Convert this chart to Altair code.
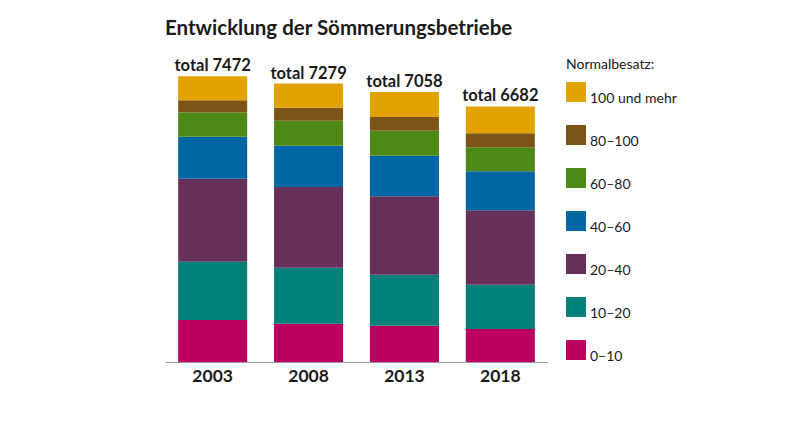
import altair as alt
import pandas as pd

years = ["2003", "2008", "2013", "2018"]
categories = ["0–10", "10–20", "20–40", "40–60", "60–80", "80–100", "100 und mehr"]
colors = ["#BB005E", "#008078", "#66305A", "#0066A4", "#4D8A15", "#7D5418", "#E2A200"]

v_0_10 = [1096, 1000, 948, 865]
v_10_20 = [1522, 1462, 1331, 1155]
v_20_40 = [2174, 2115, 2056, 1945]
v_40_60 = [1096, 1078, 1060, 1022]
v_60_80 = [637, 653, 653, 628]
v_80_100 = [321, 339, 357, 365]
v_100_plus = [626, 632, 653, 702]
totals = [7472, 7279, 7058, 6682]

series = [v_0_10, v_10_20, v_20_40, v_40_60, v_60_80, v_80_100, v_100_plus]
rows = []
for ci, (cat, vals) in enumerate(zip(categories, series)):
    for y, v in zip(years, vals):
        rows.append({"Jahr": y, "Normalbesatz": cat, "Anzahl": v, "rank": ci})
df = pd.DataFrame(rows)
tot = pd.DataFrame({"Jahr": years, "total": totals})

FONT = "Lato"

x_enc = alt.X(
    "Jahr:N",
    sort=years,
    scale=alt.Scale(paddingInner=0.28, paddingOuter=0.137),
    axis=alt.Axis(
        title=None, ticks=False, labelAngle=0, labelFont=FONT, labelFontSize=17.5,
        labelFontWeight="bold", labelColor="#1a1a1a", labelPadding=5,
        domainColor="#999999", domainWidth=1, grid=False,
    ),
)
y_scale = alt.Scale(domain=[0, 8000])

bars = alt.Chart(df).mark_bar(stroke=None).encode(
    x=x_enc,
    y=alt.Y("Anzahl:Q", stack="zero", scale=y_scale, axis=None),
    color=alt.Color(
        "Normalbesatz:N",
        scale=alt.Scale(domain=categories[::-1], range=colors[::-1]),
        legend=alt.Legend(
            title="Normalbesatz:", orient="none", legendX=401, legendY=2,
            symbolType="square", symbolSize=400, symbolStrokeWidth=0, symbolOpacity=1,
            rowPadding=19, titlePadding=10, titleFont=FONT, titleFontSize=14,
            titleFontWeight="normal", titleColor="#1a1a1a", labelFont=FONT,
            labelFontSize=14, labelColor="#1a1a1a", labelBaseline="top", labelOffset=4,
        ),
    ),
    order=alt.Order("rank:Q", sort="ascending"),
)

labels = alt.Chart(tot).transform_calculate(
    label="'total ' + datum.total"
).mark_text(
    font=FONT, fontSize=16.5, fontWeight="bold", baseline="alphabetic", dy=-5, color="#1a1a1a"
).encode(
    x=alt.X("Jahr:N", sort=years),
    y=alt.Y("total:Q", scale=y_scale),
    text="label:N",
)

chart = alt.layer(bars, labels).properties(
    width=383,
    height=306,
    padding={"left": 157, "top": 48, "right": 240, "bottom": 50},
    autosize=alt.AutoSizeParams(type="none"),
    title=alt.TitleParams(
        "Entwicklung der Sömmerungsbetriebe", anchor="start", font=FONT, fontSize=20.5,
        fontWeight="bold", color="#1a1a1a", offset=17,
    ),
).configure_view(stroke=None)

chart.save("out.html", embed_options={"renderer": "svg", "actions": False})
